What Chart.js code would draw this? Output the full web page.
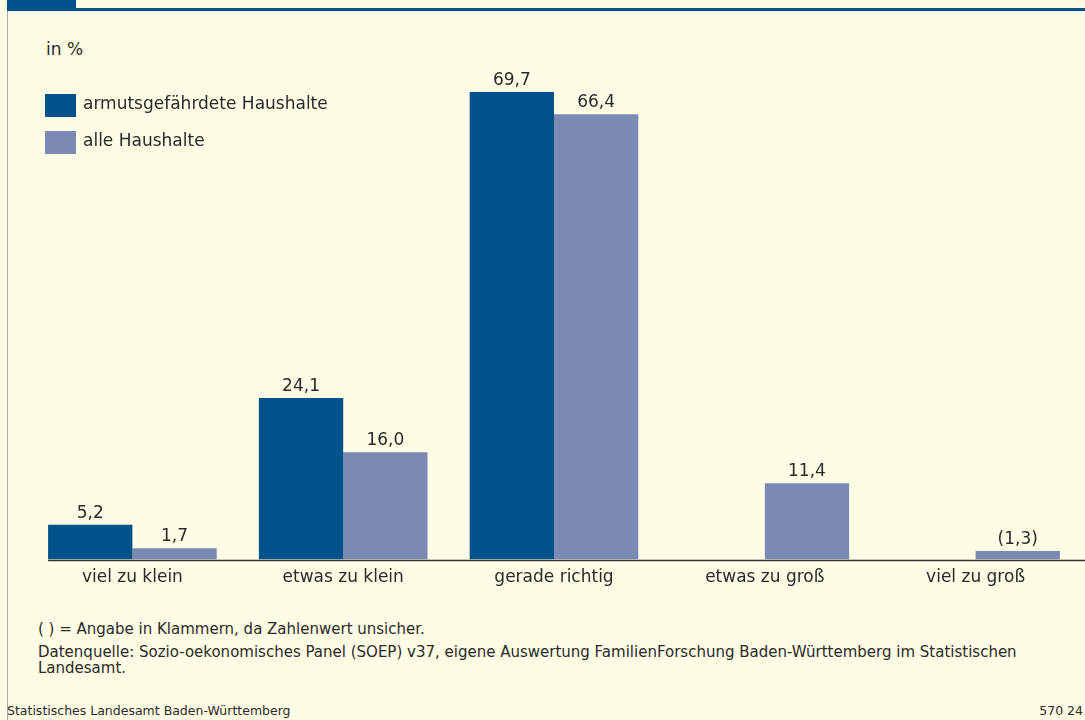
<!DOCTYPE html>
<html lang="de">
<head>
<meta charset="utf-8">
<title>Wohnungsgröße</title>
<script src="https://cdn.jsdelivr.net/npm/chart.js@4/dist/chart.umd.min.js"></script>
<style>
  html, body { margin: 0; padding: 0; }
  body {
    width: 1085px; height: 720px; position: relative; overflow: hidden;
    background: #fffde6; font-family: "DejaVu Sans", sans-serif; color: #2a2a2a;
  }
  #topBlock { position: absolute; left: 7px; top: 0; width: 69px; height: 9px; background: #00528a; }
  #topLine { position: absolute; left: 7px; right: 0; top: 8px; height: 3px; background: #00528a; }
  #leftLine { position: absolute; left: 7px; top: 11px; bottom: 0; width: 1px; background: #a9a9a9; }
  #chartBox { position: absolute; left: 0; top: 0; width: 1085px; height: 600px; }
  .txt { position: absolute; white-space: nowrap; }
  #unit { left: 46px; top: 39px; font-size: 17px; }
  #notes { position: absolute; left: 38px; top: 621px; width: 1000px; font-size: 15px; line-height: 16px; }
  #notes p { margin: 0 0 7px 0; }
  #source { left: 7px; top: 703px; font-size: 12.5px; }
  #code { right: 2px; top: 703px; font-size: 12.5px; }
</style>
</head>
<body>
<div id="topBlock"></div>
<div id="topLine"></div>
<div id="leftLine"></div>
<div class="txt" id="unit">in %</div>
<div id="chartBox"><canvas id="chart" width="1085" height="600"></canvas></div>
<div id="notes">
  <p>( ) = Angabe in Klammern, da Zahlenwert unsicher.</p>
  <p>Datenquelle: Sozio-oekonomisches Panel (SOEP) v37, eigene Auswertung FamilienForschung Baden-Württemberg im Statistischen Landesamt.</p>
</div>
<div class="txt" id="source">Statistisches Landesamt Baden-Württemberg</div>
<div class="txt" id="code">570 24</div>

<script>
// Data
const categories = ['viel zu klein', 'etwas zu klein', 'gerade richtig', 'etwas zu groß', 'viel zu groß'];
const seriesNames = ['armutsgefährdete Haushalte', 'alle Haushalte'];
const armutsValues = [5.2, 24.1, 69.7, null, null];
const alleValues = [1.7, 16.0, 66.4, 11.4, 1.3];
// values shown in brackets (uncertain)
const alleUnsicher = [false, false, false, false, true];

const darkBlue = '#00528a';
const lightBlue = '#7b8ab4';
const textColor = '#2a2a2a';
const fontFamily = '"DejaVu Sans", sans-serif';

function fmt(v) {
  return v.toFixed(1).replace('.', ',');
}

// value labels over bars
const valueLabels = {
  id: 'valueLabels',
  afterDatasetsDraw(chart) {
    const ctx = chart.ctx;
    ctx.save();
    ctx.font = '17px ' + fontFamily;
    ctx.fillStyle = textColor;
    ctx.textAlign = 'center';
    ctx.textBaseline = 'alphabetic';
    chart.data.datasets.forEach((ds, di) => {
      const meta = chart.getDatasetMeta(di);
      meta.data.forEach((bar, i) => {
        const v = ds.data[i];
        if (v === null || v === undefined) return;
        let label = fmt(v);
        if (ds.unsicher && ds.unsicher[i]) label = '(' + label + ')';
        ctx.fillText(label, bar.x, bar.y - 7);
      });
    });
    ctx.restore();
  }
};

// baseline from first bar to the right edge
const baseLine = {
  id: 'baseLine',
  afterDatasetsDraw(chart) {
    const ctx = chart.ctx;
    const first = chart.getDatasetMeta(0).data[0];
    const x0 = first.x - first.width / 2;
    const y = Math.round(chart.scales.y.getPixelForValue(0)) + 0.5;
    ctx.save();
    ctx.strokeStyle = '#333333';
    ctx.lineWidth = 1.5;
    ctx.beginPath();
    ctx.moveTo(x0, y);
    ctx.lineTo(chart.width, y);
    ctx.stroke();
    ctx.restore();
  }
};

// legend at top left
const boxLegend = {
  id: 'boxLegend',
  afterDraw(chart) {
    const ctx = chart.ctx;
    ctx.save();
    ctx.font = '17px ' + fontFamily;
    ctx.textBaseline = 'middle';
    chart.data.datasets.forEach((ds, i) => {
      const y = 94 + i * 37;
      ctx.fillStyle = ds.backgroundColor;
      ctx.fillRect(45, y, 31, 23);
      ctx.fillStyle = textColor;
      ctx.fillText(ds.label, 83, y + 11);
    });
    ctx.restore();
  }
};

new Chart(document.getElementById('chart'), {
  type: 'bar',
  data: {
    labels: categories,
    datasets: [
      {
        label: seriesNames[0],
        data: armutsValues,
        backgroundColor: darkBlue
      },
      {
        label: seriesNames[1],
        data: alleValues,
        unsicher: alleUnsicher,
        backgroundColor: lightBlue
      }
    ]
  },
  options: {
    responsive: false,
    animation: false,
    layout: { padding: { top: 23, left: 27, right: 4, bottom: 4 } },
    datasets: {
      bar: { categoryPercentage: 0.8, barPercentage: 1.0, skipNull: false }
    },
    plugins: {
      legend: { display: false },
      tooltip: { enabled: false }
    },
    scales: {
      x: {
        grid: { display: false, drawTicks: false },
        border: { display: false },
        ticks: {
          padding: 8,
          color: textColor,
          font: { family: fontFamily, size: 17 }
        }
      },
      y: {
        display: false,
        min: 0,
        max: 80
      }
    }
  },
  plugins: [valueLabels, baseLine, boxLegend]
});
</script>
</body>
</html>
